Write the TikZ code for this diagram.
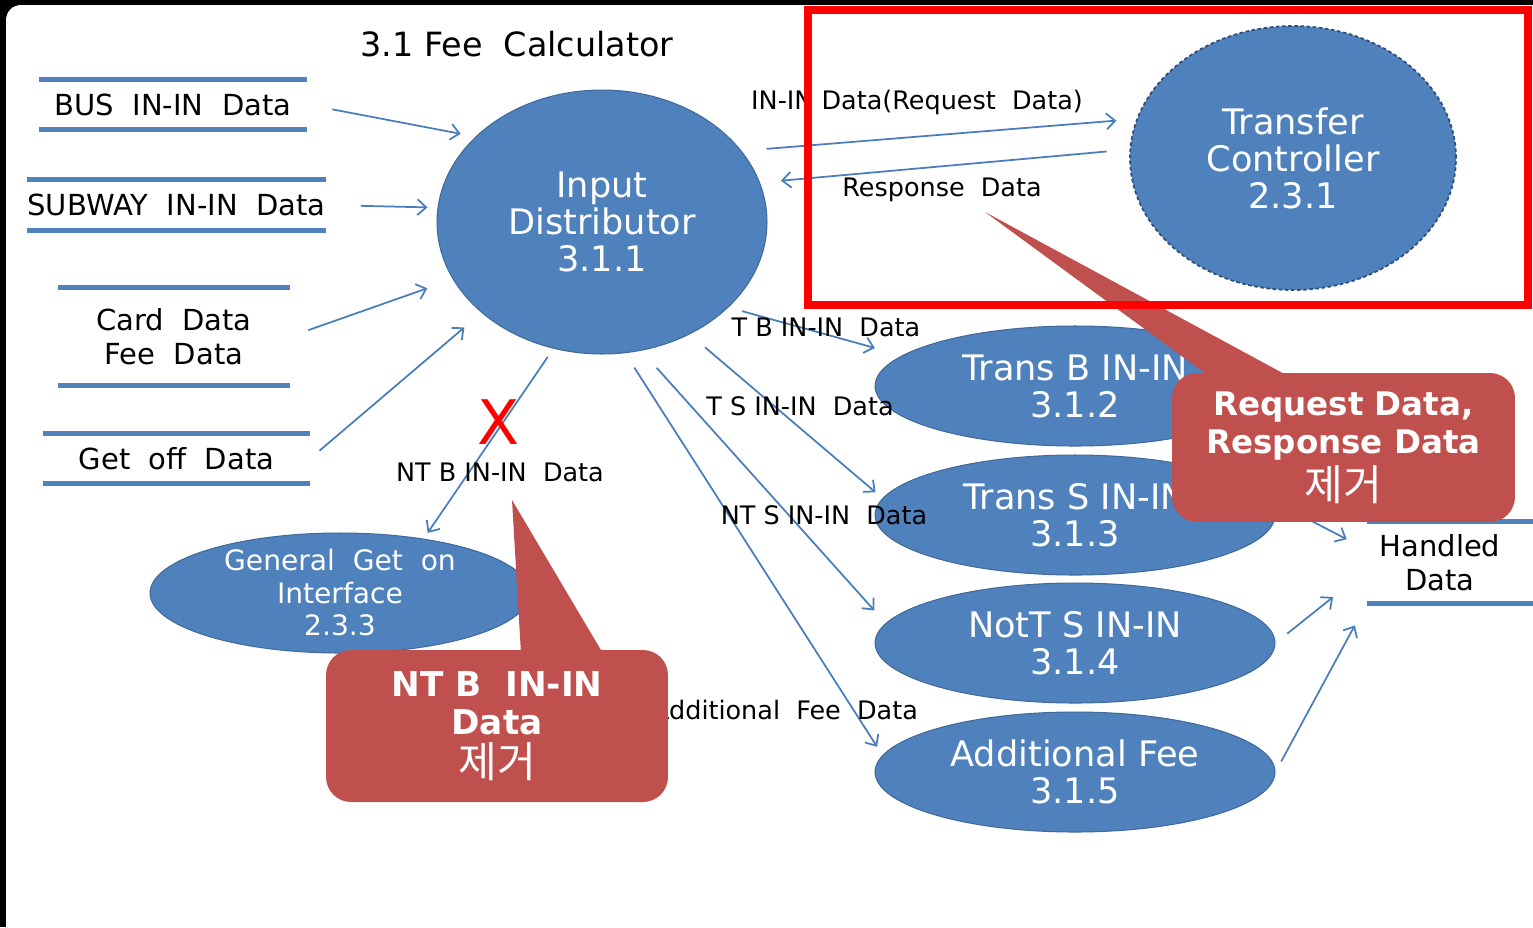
\documentclass[tikz,border=0pt]{standalone}
\usepackage{fontspec}
\setmainfont{DejaVu Sans}
\newfontfamily\krfont{Noto Sans CJK KR}
\usepackage{tikz}
\usetikzlibrary{arrows.meta,calc,positioning,shapes.geometric}
\definecolor{procblue}{HTML}{4F81BD}
\definecolor{procedge}{HTML}{41699A}
\definecolor{procdark}{HTML}{2E4D78}
\definecolor{flowblue}{HTML}{4A7EBB}
\definecolor{notered}{HTML}{C0504D}
\tikzset{%
	datastore/.style = {minimum width=5.34cm, minimum height=0.98cm, inner sep=0pt, align=center, font=\fontsize{16.5}{19.5}\selectfont},
	storeline/.style = {draw=procblue, line width=2.8pt},
	process/.style   = {ellipse, fill=procblue, draw=procedge, line width=0.6pt, inner sep=0pt, text=white, align=center, font=\fontsize{20}{21}\selectfont},
	subproc/.style   = {process, minimum width=8cm, minimum height=2.4cm},
	flowlabel/.style = {inner sep=0pt, font=\fontsize{14.5}{16}\selectfont},
	arrow/.style     = {draw=flowblue, line width=1pt, -{Straight Barb[length=5pt,width=9pt]}},
	note/.style      = {fill=notered, rounded corners=0.5cm, inner sep=0pt, text=white, align=center, font=\bfseries\fontsize{18.5}{21.5}\selectfont},
}
\newcommand{\jegeo}{{\krfont\mdseries\fontsize{24}{24}\selectfont 제거}}

\begin{document}
\begin{tikzpicture}[x=0.02cm, y=-0.02cm]
	\useasboundingbox (0,0) rectangle (1533,927);
	\fill[black] (0,0) rectangle (1533,927);
	\fill[white, rounded corners=0.3cm] (6,5) rectangle (1560,960);

	\node (title) at (517,44) {\fontsize{19}{22}\selectfont 3.1 Fee~~Calculator};

	\node[datastore] (bus) at (173,104.5) {BUS~~IN-IN~~Data};
	\node[datastore, minimum height=1cm] (subway) at (176.5,205) {SUBWAY~~IN-IN~~Data};
	\node[datastore, minimum width=4.64cm, minimum height=1.94cm] (card) at (174,336.5) {Card~~Data\\Fee~~Data};
	\node[datastore] (getoff) at (176.5,458.5) {Get~~off~~Data};
	\node[datastore, minimum width=2.92cm, minimum height=1.62cm] (handled) at (1440,562.5) {Handled\\Data};
	\foreach \s in {bus,subway,card,getoff}
		\draw[storeline] (\s.north west) -- (\s.north east) (\s.south west) -- (\s.south east);
	\draw[storeline] (handled.north west) -- ([xshift=0.4cm]handled.north east) (handled.south west) -- ([xshift=0.4cm]handled.south east);

	\node[process, minimum width=6.6cm, minimum height=5.28cm] (input) at (602,222) {Input\\Distributor\\3.1.1};
	\node[process, draw=procdark, line width=1pt, dash pattern=on 2pt off 1.5pt, minimum width=6.52cm, minimum height=5.28cm] (transfer) at (1293,158) {Transfer\\Controller\\2.3.1};
	\node[process, minimum width=7.6cm, minimum height=2.4cm] (getonif) at (340,593) {};
	\node[text=white, align=center, inner sep=0pt, font=\fontsize{16}{18.5}\selectfont] (getontext) at (getonif) {General~~Get~~on\\Interface\\2.3.3};
	\node[subproc] (transb) at (1075,386) {Trans B IN-IN\\3.1.2};
	\node[subproc] (transs) at (1075,515) {Trans S IN-IN\\3.1.3};
	\node[subproc] (nottsub) at (1075,643) {NotT S IN-IN\\3.1.4};
	\node[subproc] (addfee) at (1075,772) {Additional Fee\\3.1.5};

	\draw[arrow, shorten <=0.52cm, shorten >=0.3cm] (bus.east) -- (input.146);
	\draw[arrow, shorten <=0.7cm, shorten >=0.2cm] (subway.east) -- (input.175);
	\draw[arrow, shorten <=0.38cm, shorten >=0.54cm] (card.east) -- (input.201);
	\draw[arrow, shorten <=0.24cm, shorten >=0.45cm] (getoff.east) -- (input.217);
	\draw[arrow, shorten <=0.2cm, shorten >=0.14cm] (input.249) -- (getonif.33);
	\draw[arrow, shorten <=0.5cm, shorten >=0.4cm] (input.27) -- (transfer.166);
	\draw[arrow, shorten <=0.46cm, shorten >=0.42cm] (transfer.177) -- (input.14);
	\draw[arrow, shorten <=0.28cm, shorten >=0.56cm] (input.326) -- (transb.170);
	\draw[arrow, shorten <=0.4cm, shorten >=0.18cm] (input.308) -- (transs.175);
	\draw[arrow, shorten <=0.46cm, shorten >=0.34cm] (input.287) -- (nottsub.174);
	\draw[arrow, shorten <=0.34cm, shorten >=0.2cm] (input.280) -- (addfee.175);
	\draw[arrow, shorten >=0.45cm] (transs.5) -- (handled.170);
	\draw[arrow, shorten <=0.3cm, shorten >=0.86cm] (nottsub.east) -- (handled.186);
	\draw[arrow, shorten <=0.24cm, shorten >=0.5cm] (addfee.east) -- (handled.south west);

	\node[flowlabel] (reqlabel) at (917,102) {IN-IN Data(Request~~Data)};
	\node[flowlabel] (reslabel) at (942,190) {Response~~Data};
	\node[flowlabel] (tblabel) at (826,327) {T B IN-IN~~Data};
	\node[flowlabel] (tslabel) at (800,406) {T S IN-IN~~Data};
	\node[flowlabel] (ntslabel) at (824,515) {NT S IN-IN~~Data};
	\node[flowlabel] (addlabel) at (785,710) {Additional~~Fee~~Data};
	\node[flowlabel] (ntblabel) at (500,472) {NT B IN-IN~~Data};
	\node[text=red, inner sep=0pt, font=\fontsize{35}{35}\selectfont] (cross) at (499,422) {X};

	\coordinate (reqtip) at (985,212);
	\node[note, minimum width=6.86cm, minimum height=2.98cm] (reqnote) at (1343.5,447.5) {Request Data,\\Response Data\\[2pt]\jegeo};
	\fill[notered] (reqtip) -- ([xshift=1.06cm, yshift=-0.3cm]reqnote.north west) -- ([xshift=2.76cm, yshift=-0.3cm]reqnote.north west) -- cycle;
	\coordinate (ntbtip) at (512,500);
	\node[note, minimum width=6.84cm, minimum height=3.04cm, font=\bfseries\fontsize{19.5}{21.5}\selectfont] (ntbnote) at (497,726) {NT B~~IN-IN\\Data\\[3pt]\jegeo};
	\fill[notered] (ntbtip) -- ([xshift=3.92cm, yshift=-0.3cm]ntbnote.north west) -- ([xshift=5.68cm, yshift=-0.3cm]ntbnote.north west) -- cycle;

	\draw[red, line width=4.5pt] (808,10) rectangle (1528,305);
\end{tikzpicture}
\end{document}
